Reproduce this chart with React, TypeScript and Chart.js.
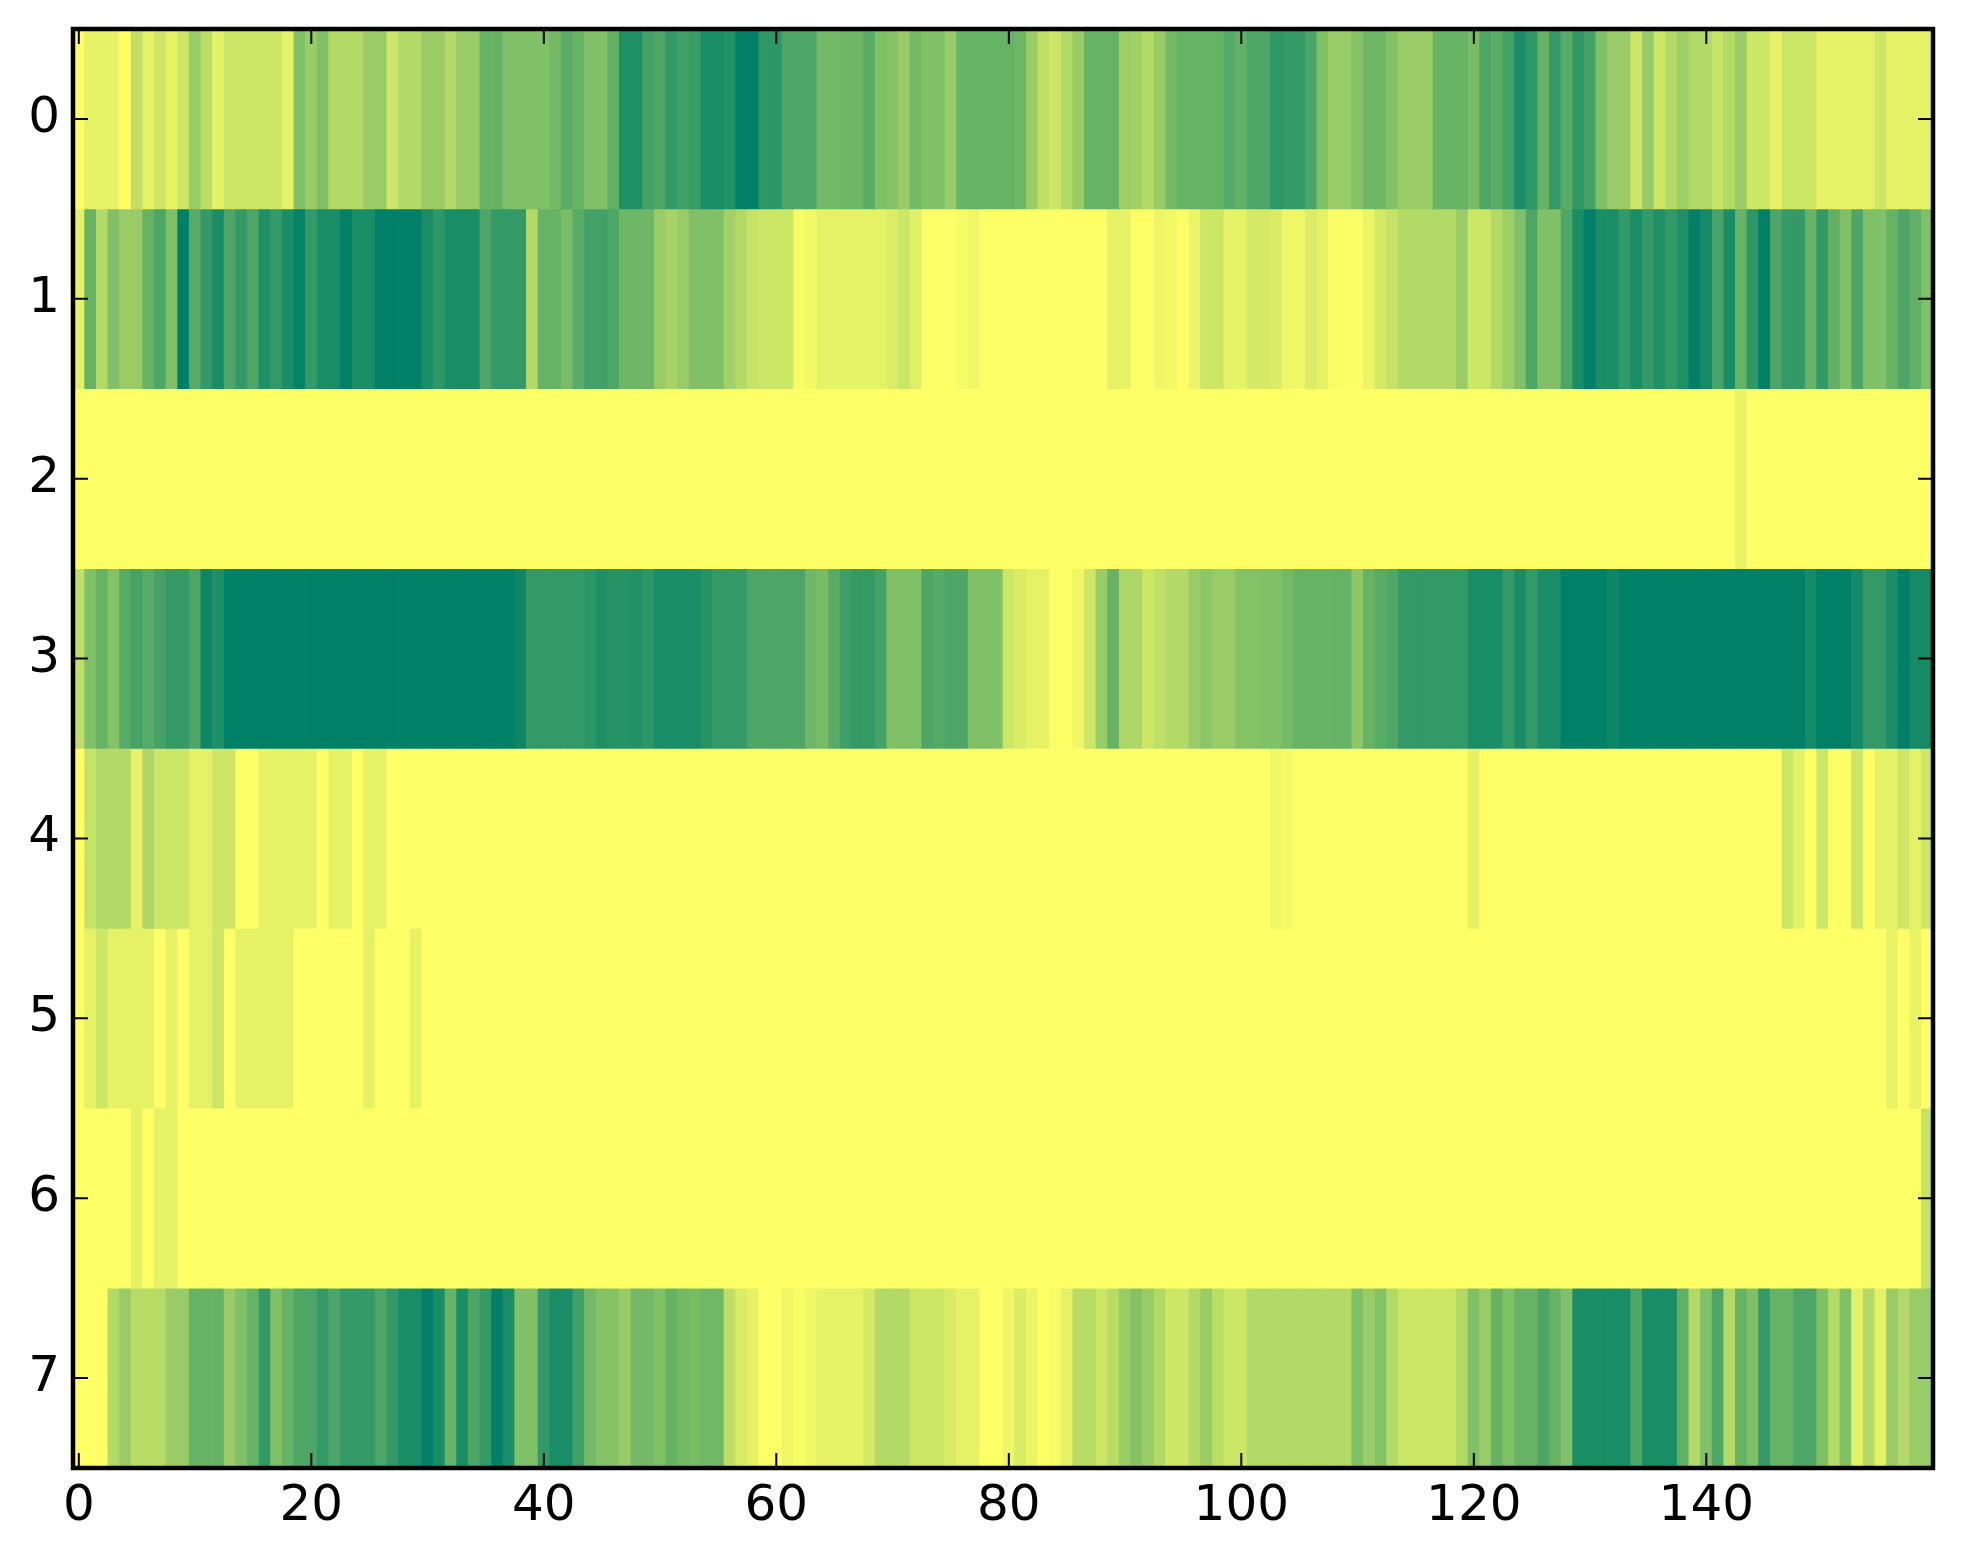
import React, { useEffect, useRef } from "react";
import { Chart, registerables } from "chart.js";

Chart.register(...registerables);

const row0 = [
  0,.1,.1,.1,0,.25,.1,.2,.1,.2,.4,.27,.1,.2,.2,.2,.2,.2,.1,.5,
  .4,.5,.3,.3,.3,.4,.4,.2,.3,.3,.4,.4,.3,.4,.4,.6,.6,.5,.5,.5,
  .5,.55,.65,.6,.5,.5,.62,.88,.88,.73,.7,.8,.75,.78,.9,.9,.87,1,1,.82,
  .82,.7,.7,.7,.55,.55,.57,.57,.65,.5,.48,.4,.55,.5,.5,.4,.6,.6,.6,.6,
  .6,.57,.4,.25,.2,.3,.4,.6,.6,.6,.38,.37,.3,.4,.55,.6,.6,.6,.6,.67,
  .62,.7,.7,.82,.8,.8,.7,.5,.4,.4,.48,.57,.57,.48,.4,.4,.4,.6,.6,.6,
  .53,.7,.65,.74,.9,.82,.6,.8,.65,.81,.73,.5,.4,.4,.2,.4,.2,.3,.38,.3,
  .3,.22,.3,.4,.2,.2,.1,.2,.2,.2,.1,.1,.1,.1,.1,.2,.1,.1,.1,.1,
];
const row1 = [
  .1,.6,.3,.5,.4,.4,.6,.7,.5,1,.66,.8,.9,.7,.8,.7,.88,.8,.9,.98,
  .8,.9,.9,1,.9,.9,1,1,1,1,.9,.82,.9,.9,.9,.7,.8,.8,.8,.3,
  .6,.6,.52,.65,.74,.74,.7,.57,.57,.57,.4,.34,.4,.5,.5,.5,.36,.3,.22,.2,
  .2,.2,.02,.05,.1,.1,.1,.1,.1,.1,.14,.2,.12,0,0,0,.03,.06,0,0,
  0,0,0,0,0,0,0,0,0,.1,.1,0,0,.06,.05,0,.08,.2,.2,.1,
  .1,.17,.17,.15,.06,.06,.14,.1,.02,.01,.01,.08,.17,.22,.3,.3,.3,.3,.3,.4,
  .2,.2,.3,.38,.5,.7,.5,.5,.7,.9,1,.9,.9,.8,.9,.8,.88,.8,.88,1,
  .92,.72,.9,.6,.82,1,.7,.8,.8,.6,.8,.62,.5,.7,.5,.5,.6,.7,.62,.5,
];
const row2 = [
  0,0,0,0,0,0,0,0,0,0,0,0,0,0,0,0,0,0,0,0,
  0,0,0,0,0,0,0,0,0,0,0,0,0,0,0,0,0,0,0,0,
  0,0,0,0,0,0,0,0,0,0,0,0,0,0,0,0,0,0,0,0,
  0,0,0,0,0,0,0,0,0,0,0,0,0,0,0,0,0,0,0,0,
  0,0,0,0,0,0,0,0,0,0,0,0,0,0,0,0,0,0,0,0,
  0,0,0,0,0,0,0,0,0,0,0,0,0,0,0,0,0,0,0,0,
  0,0,0,0,0,0,0,0,0,0,0,0,0,0,0,0,0,0,0,0,
  0,0,0,.09,0,0,0,0,0,0,0,0,0,0,0,0,0,0,0,0,
];
const row3 = [
  .25,.5,.6,.48,.66,.73,.66,.73,.8,.8,.7,.95,.88,1,1,1,1,1,1,1,
  1,1,1,1,1,1,1,1,1,1,1,1,1,1,1,1,1,1,.95,.8,
  .8,.8,.8,.8,.83,.88,.85,.85,.87,.83,.9,.9,.9,.9,.85,.8,.8,.8,.7,.7,
  .7,.7,.7,.57,.53,.65,.76,.8,.8,.73,.5,.5,.5,.7,.67,.7,.7,.5,.5,.5,
  .2,.15,.1,.1,0,0,.06,.2,.4,.6,.32,.32,.2,.25,.3,.3,.4,.45,.4,.4,
  .48,.48,.5,.5,.55,.6,.6,.6,.6,.6,.45,.6,.66,.69,.8,.8,.8,.8,.8,.8,
  .9,.9,.9,.8,.9,.8,.9,.9,1,1,1,1,.95,1,1,1,1,1,1,1,
  1,1,1,1,1,1,1,1,1,.92,1,1,1,.92,.8,.8,.9,1,.92,.92,
];
const row4 = [
  0,.22,.3,.3,.3,.1,.32,.2,.2,.2,.1,.1,.2,.2,0,0,.1,.1,.1,.1,
  .1,0,.1,.1,0,.1,.1,0,0,0,0,0,0,0,0,0,0,0,0,0,
  0,0,0,0,0,0,0,0,0,0,0,0,0,0,0,0,0,0,0,0,
  0,0,0,0,0,0,0,0,0,0,0,0,0,0,0,0,0,0,0,0,
  0,0,0,0,0,0,0,0,0,0,0,0,0,0,0,0,0,0,0,0,
  0,0,0,.06,.04,0,0,0,0,0,0,0,0,0,0,0,0,0,0,0,
  .1,0,0,0,0,0,0,0,0,0,0,0,0,0,0,0,0,0,0,0,
  0,0,0,0,0,0,0,.2,.1,0,.2,0,0,.2,0,.1,.1,.2,.1,.2,
];
const row5 = [
  0,.1,.2,.1,.1,.1,.1,0,.1,0,.1,.1,.2,0,.1,.1,.1,.1,.1,0,
  0,0,0,0,0,.1,0,0,0,.1,0,0,0,0,0,0,0,0,0,0,
  0,0,0,0,0,0,0,0,0,0,0,0,0,0,0,0,0,0,0,0,
  0,0,0,0,0,0,0,0,0,0,0,0,0,0,0,0,0,0,0,0,
  0,0,0,0,0,0,0,0,0,0,0,0,0,0,0,0,0,0,0,0,
  0,0,0,0,0,0,0,0,0,0,0,0,0,0,0,0,0,0,0,0,
  0,0,0,0,0,0,0,0,0,0,0,0,0,0,0,0,0,0,0,0,
  0,0,0,0,0,0,0,0,0,0,0,0,0,0,0,0,.09,0,.09,0,
];
const row6 = [
  0,0,0,0,0,.1,0,.1,.1,0,0,0,0,0,0,0,0,0,0,0,
  0,0,0,0,0,0,0,0,0,0,0,0,0,0,0,0,0,0,0,0,
  0,0,0,0,0,0,0,0,0,0,0,0,0,0,0,0,0,0,0,0,
  0,0,0,0,0,0,0,0,0,0,0,0,0,0,0,0,0,0,0,0,
  0,0,0,0,0,0,0,0,0,0,0,0,0,0,0,0,0,0,0,0,
  0,0,0,0,0,0,0,0,0,0,0,0,0,0,0,0,0,0,0,0,
  0,0,0,0,0,0,0,0,0,0,0,0,0,0,0,0,0,0,0,0,
  0,0,0,0,0,0,0,0,0,0,0,0,0,0,0,0,0,0,0,.22,
];
const row7 = [
  0,0,0,.3,.4,.28,.28,.28,.4,.4,.6,.6,.6,.4,.5,.6,.8,.5,.6,.7,
  .7,.8,.7,.8,.8,.8,.7,.8,.9,.9,1,.9,.6,.9,.7,.8,1,.9,.5,.5,
  .8,.9,.9,.75,.55,.48,.48,.4,.55,.55,.5,.6,.55,.53,.56,.56,.25,.15,.1,0,
  0,.06,.02,.06,.1,.1,.1,.1,.17,.3,.3,.3,.2,.2,.2,.15,.1,.1,0,0,
  .06,.15,.08,0,.03,.1,.28,.28,.2,.28,.4,.48,.4,.3,.2,.2,.3,.4,.27,.2,
  .2,.3,.3,.3,.3,.3,.3,.3,.3,.3,.5,.4,.48,.3,.2,.2,.2,.2,.2,.3,
  .5,.4,.6,.5,.6,.6,.7,.6,.5,.9,.9,.9,.9,.9,.7,.9,.9,.9,.62,.3,
  .5,.7,.3,.6,.5,.8,.6,.6,.7,.7,.5,.3,.5,.1,.3,.1,.4,.3,.4,.4,
];

const rows = [row0, row1, row2, row3, row4, row5, row6, row7];
const rowTicks = [0, 1, 2, 3, 4, 5, 6, 7];
const columns = row0.map((_, i) => i);
const columnTicks = [0, 20, 40, 60, 80, 100, 120, 140];

// matplotlib's reversed "summer" colour map
const summerR = (v: number) =>
  `rgb(${Math.round(255 * (1 - v))},${Math.round(255 - 127 * v)},102)`;

const frame = {
  id: "frame",
  afterDatasetsDraw(chart: any) {
    const { ctx, chartArea: a, scales } = chart;
    const tick = 15;
    ctx.save();
    ctx.strokeStyle = "#000";
    ctx.lineWidth = 2;
    ctx.beginPath();
    scales.x.ticks.forEach((t: any) => {
      const x = scales.x.getPixelForValue(t.value);
      ctx.moveTo(x, a.bottom);
      ctx.lineTo(x, a.bottom - tick);
      ctx.moveTo(x, a.top);
      ctx.lineTo(x, a.top + tick);
    });
    scales.y.ticks.forEach((t: any) => {
      const y = scales.y.getPixelForValue(t.value);
      ctx.moveTo(a.left, y);
      ctx.lineTo(a.left + tick, y);
      ctx.moveTo(a.right, y);
      ctx.lineTo(a.right - tick, y);
    });
    ctx.stroke();
    ctx.lineWidth = 4.5;
    ctx.lineJoin = "miter";
    ctx.strokeRect(a.left, a.top, a.right - a.left, a.bottom - a.top);
    ctx.restore();
  },
};

export default function App() {
  const ref = useRef<HTMLCanvasElement>(null);
  useEffect(() => {
    const font = { family: "'DejaVu Sans'", size: 50 };
    const chart = new Chart(ref.current!, {
      type: "bar",
      plugins: [frame],
      data: {
        labels: columns,
        datasets: rows.map((r, k) => ({
          data: r.map(() => [k - 0.5, k + 0.5]),
          backgroundColor: r.map(summerR),
          borderWidth: 0,
          grouped: false,
          barPercentage: 1,
          categoryPercentage: 1,
        })),
      } as any,
      options: {
        animation: false,
        responsive: false,
        devicePixelRatio: 1,
        layout: { padding: { top: 29, right: 30, left: 0, bottom: 0 } },
        plugins: { legend: { display: false }, tooltip: { enabled: false } },
        scales: {
          x: {
            type: "category",
            offset: true,
            grid: { display: false, drawTicks: false },
            border: { display: false },
            afterBuildTicks: (s: any) => {
              s.ticks = s.ticks.filter((t: any) => columnTicks.includes(t.value));
            },
            afterFit: (s: any) => {
              s.height = 96;
              s.paddingLeft = 0;
              s.paddingRight = 0;
            },
            ticks: {
              autoSkip: false,
              maxRotation: 0,
              minRotation: 0,
              padding: 9,
              color: "#000",
              font,
            },
          },
          y: {
            type: "linear",
            reverse: true,
            min: -0.5,
            max: 7.5,
            grid: { display: false, drawTicks: false },
            border: { display: false },
            afterBuildTicks: (s: any) => {
              s.ticks = rowTicks.map((value) => ({ value }));
            },
            afterFit: (s: any) => {
              s.width = 73;
              s.paddingTop = 0;
              s.paddingBottom = 0;
            },
            ticks: {
              padding: 13,
              color: "#000",
              font,
              callback: (v: any) => String(v),
            },
          },
        },
      } as any,
    });
    return () => chart.destroy();
  }, []);
  return (
    <canvas
      ref={ref}
      width={1963}
      height={1564}
      style={{ position: "absolute", left: 0, top: 0, display: "block", width: 1963, height: 1564 }}
    />
  );
}
